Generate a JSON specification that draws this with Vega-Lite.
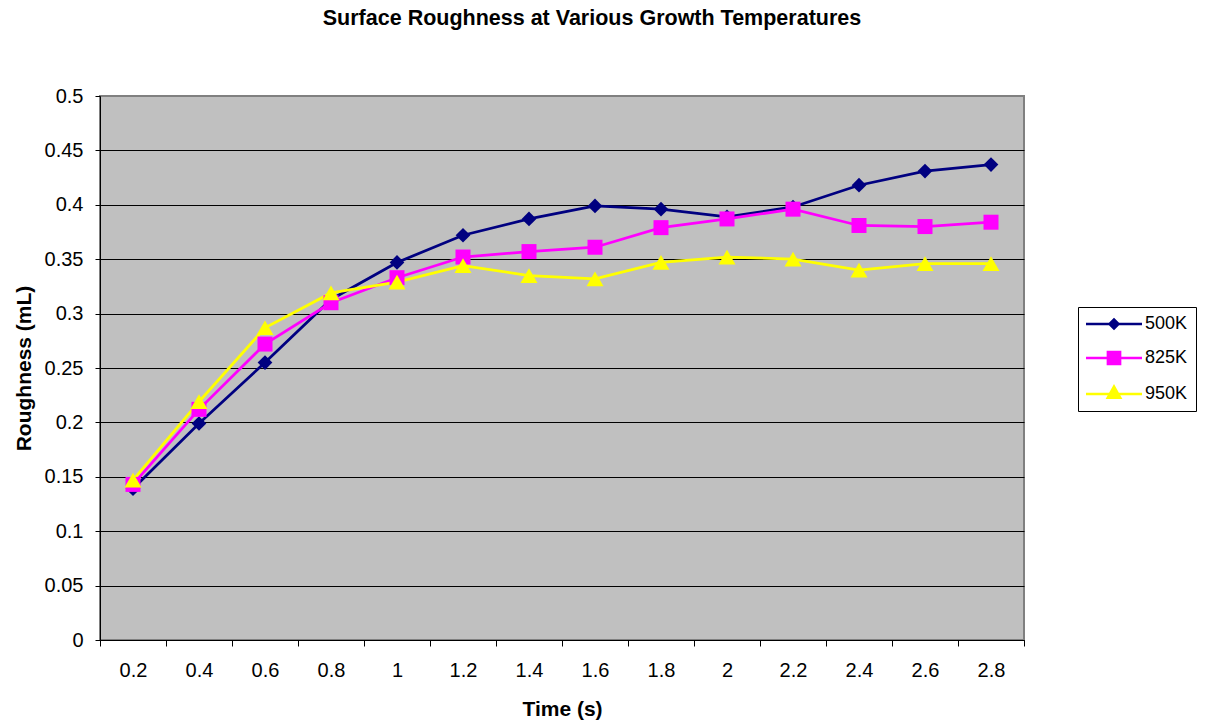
{
  "$schema": "https://vega.github.io/schema/vega-lite/v6.json",
  "width": 924,
  "height": 544,
  "autosize": {"type": "none"},
  "padding": {"left": 100, "top": 96, "right": 185, "bottom": 83},
  "background": "white",
  "title": {
    "text": "Surface Roughness at Various Growth Temperatures",
    "font": "Liberation Sans", "fontSize": 21.5, "fontWeight": "bold", "color": "black",
    "anchor": "middle", "dx": 30, "offset": 40, "baseline": "alphabetic"
  },
  "config": {
    "font": "Liberation Sans",
    "view": {"fill": "#C0C0C0", "stroke": "#808080", "strokeWidth": 2},
    "axis": {
      "labelFont": "Liberation Sans", "labelFontSize": 20, "labelColor": "black",
      "titleFont": "Liberation Sans", "titleFontSize": 21, "titleFontWeight": "bold", "titleColor": "black",
      "domainColor": "black", "domainWidth": 1, "tickColor": "black", "tickWidth": 1
    }
  },
  "data": {
    "values": [
      {"t": 0.2, "series": "500K", "v": 0.139},
      {"t": 0.4, "series": "500K", "v": 0.199},
      {"t": 0.6, "series": "500K", "v": 0.255},
      {"t": 0.8, "series": "500K", "v": 0.313},
      {"t": 1.0, "series": "500K", "v": 0.347},
      {"t": 1.2, "series": "500K", "v": 0.372},
      {"t": 1.4, "series": "500K", "v": 0.387},
      {"t": 1.6, "series": "500K", "v": 0.399},
      {"t": 1.8, "series": "500K", "v": 0.396},
      {"t": 2.0, "series": "500K", "v": 0.389},
      {"t": 2.2, "series": "500K", "v": 0.398},
      {"t": 2.4, "series": "500K", "v": 0.418},
      {"t": 2.6, "series": "500K", "v": 0.431},
      {"t": 2.8, "series": "500K", "v": 0.437},
      {"t": 0.2, "series": "825K", "v": 0.143},
      {"t": 0.4, "series": "825K", "v": 0.212},
      {"t": 0.6, "series": "825K", "v": 0.272},
      {"t": 0.8, "series": "825K", "v": 0.310},
      {"t": 1.0, "series": "825K", "v": 0.333},
      {"t": 1.2, "series": "825K", "v": 0.352},
      {"t": 1.4, "series": "825K", "v": 0.357},
      {"t": 1.6, "series": "825K", "v": 0.361},
      {"t": 1.8, "series": "825K", "v": 0.379},
      {"t": 2.0, "series": "825K", "v": 0.387},
      {"t": 2.2, "series": "825K", "v": 0.396},
      {"t": 2.4, "series": "825K", "v": 0.381},
      {"t": 2.6, "series": "825K", "v": 0.380},
      {"t": 2.8, "series": "825K", "v": 0.384},
      {"t": 0.2, "series": "950K", "v": 0.147},
      {"t": 0.4, "series": "950K", "v": 0.219},
      {"t": 0.6, "series": "950K", "v": 0.287},
      {"t": 0.8, "series": "950K", "v": 0.319},
      {"t": 1.0, "series": "950K", "v": 0.329},
      {"t": 1.2, "series": "950K", "v": 0.344},
      {"t": 1.4, "series": "950K", "v": 0.335},
      {"t": 1.6, "series": "950K", "v": 0.332},
      {"t": 1.8, "series": "950K", "v": 0.347},
      {"t": 2.0, "series": "950K", "v": 0.352},
      {"t": 2.2, "series": "950K", "v": 0.350},
      {"t": 2.4, "series": "950K", "v": 0.340},
      {"t": 2.6, "series": "950K", "v": 0.346},
      {"t": 2.8, "series": "950K", "v": 0.346}
    ]
  },
  "encoding": {
    "x": {
      "field": "t", "type": "ordinal", "bandPosition": 0.5,
      "scale": {"type": "band", "paddingInner": 0, "paddingOuter": 0},
      "axis": {
        "title": "Time (s)", "tickBand": "extent", "grid": false, "labelAngle": 0,
        "tickSize": 6, "labelPadding": 14, "titlePadding": 18
      }
    },
    "y": {
      "field": "v", "type": "quantitative",
      "scale": {"domain": [0, 0.5], "nice": false, "zero": true},
      "axis": {
        "title": "Roughness (mL)",
        "values": [0, 0.05, 0.1, 0.15, 0.2, 0.25, 0.3, 0.35, 0.4, 0.45, 0.5],
        "format": "~g", "grid": true,
        "gridColor": {"condition": {"test": "datum.value >= 0.5", "value": "#808080"}, "value": "black"},
        "gridWidth": 1, "gridOpacity": 1,
        "tickSize": 5, "labelPadding": 12, "titlePadding": 10
      }
    },
    "color": {
      "field": "series", "type": "nominal",
      "scale": {"domain": ["500K", "825K", "950K"], "range": ["#000080", "#FF00FF", "#FFFF00"]},
      "legend": {
        "orient": "none", "legendX": 978, "legendY": 211, "title": null,
        "strokeColor": "black", "fillColor": "white", "padding": 8, "cornerRadius": 0,
        "labelFont": "Liberation Sans", "labelFontSize": 18, "labelColor": "black",
        "symbolSize": 196, "symbolStrokeWidth": 0, "symbolOffset": 19, "labelOffset": 22,
        "symbolOpacity": 1, "rowPadding": 16
      }
    }
  },
  "layer": [
    {"mark": {"type": "line", "strokeWidth": 2.75}},
    {
      "transform": [{"filter": "false"}],
      "mark": {"type": "point", "filled": true, "opacity": 1, "strokeWidth": 0},
      "encoding": {
        "shape": {
          "field": "series", "type": "nominal",
          "scale": {
            "domain": ["500K", "825K", "950K"],
            "range": [
              "M-4,-0.18L4,-0.18L4,0.18L-4,0.18ZM-0.9,0L0,-0.9L0.9,0L0,0.9Z",
              "M-4,-0.18L4,-0.18L4,0.18L-4,0.18ZM-1.05,-1.05L1.05,-1.05L1.05,1.05L-1.05,1.05Z",
              "M-4,-0.18L4,-0.18L4,0.18L-4,0.18ZM0,-1.43L1.2,0.71L-1.2,0.71Z"
            ]
          },
          "legend": {
            "orient": "none", "legendX": 978, "legendY": 211, "title": null,
            "strokeColor": "black", "fillColor": "white", "padding": 8, "cornerRadius": 0,
            "labelFont": "Liberation Sans", "labelFontSize": 18, "labelColor": "black",
            "symbolSize": 196, "symbolStrokeWidth": 0, "symbolOffset": 19, "labelOffset": 22,
            "symbolOpacity": 1, "rowPadding": 16
          }
        }
      }
    },
    {
      "transform": [{"filter": "datum.series === '500K'"}],
      "mark": {"type": "point", "filled": true, "opacity": 1, "strokeWidth": 0, "shape": "diamond", "size": 216}
    },
    {
      "transform": [{"filter": "datum.series === '825K'"}],
      "mark": {"type": "point", "filled": true, "opacity": 1, "strokeWidth": 0, "shape": "square", "size": 225}
    },
    {
      "transform": [{"filter": "datum.series === '950K'"}],
      "mark": {"type": "point", "filled": true, "opacity": 1, "strokeWidth": 0, "shape": "triangle-up", "size": 289}
    }
  ]
}
